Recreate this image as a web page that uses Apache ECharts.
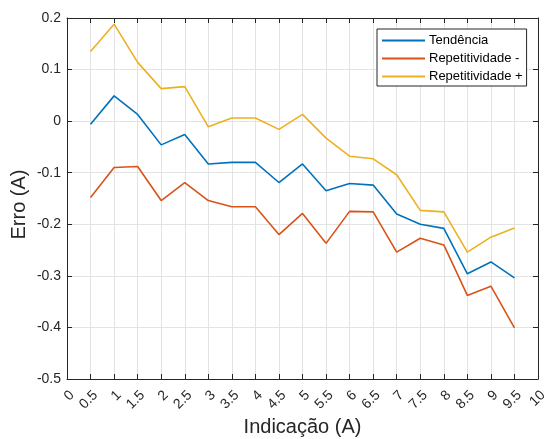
<!DOCTYPE html>
<html>
<head>
<meta charset="utf-8">
<script src="https://cdn.jsdelivr.net/npm/echarts@6/dist/echarts.min.js"></script>
<style>
  html, body { margin: 0; padding: 0; background: #fff; }
  #chart { width: 548px; height: 439px; }
</style>
</head>
<body>
<div id="chart"></div>
<script>
// Indicação (A) at which each error was measured
const indicacao = [0.5, 1, 1.5, 2, 2.5, 3, 3.5, 4, 4.5, 5, 5.5, 6, 6.5, 7, 7.5, 8, 8.5, 9, 9.5];

// Erro (A) per series
const tendencia = [-0.006, 0.049, 0.013, -0.046, -0.026, -0.083, -0.080, -0.080, -0.119, -0.083,
                   -0.135, -0.121, -0.124, -0.180, -0.200, -0.208, -0.296, -0.273, -0.304];
const repetitividadeMenos = [-0.148, -0.090, -0.088, -0.154, -0.119, -0.154, -0.166, -0.166, -0.220, -0.179,
                             -0.237, -0.175, -0.176, -0.254, -0.227, -0.240, -0.338, -0.320, -0.401];
const repetitividadeMais = [0.135, 0.188, 0.114, 0.063, 0.067, -0.011, 0.006, 0.006, -0.016, 0.013,
                            -0.033, -0.068, -0.073, -0.104, -0.173, -0.176, -0.254, -0.225, -0.207];

const seriesNames = ['Tendência', 'Repetitividade -', 'Repetitividade +'];
const seriesColors = ['#0072BD', '#D95319', '#EDB120'];

const FONT = "'Liberation Sans', Arial, Helvetica, sans-serif";
const INK = '#262626';

function pairs(ys) {
  return indicacao.map((x, i) => [x, ys[i]]);
}

const tickStyle = { show: true, inside: true, length: 5, lineStyle: { color: INK, width: 1 } };
const lineAxis = { show: true, onZero: false, lineStyle: { color: INK, width: 1 } };
const grid = { show: true, lineStyle: { color: '#e3e3e3', width: 1 } };

// plain line swatch for the legend entries
const lineIcon = 'path://M0,0 H43 V1.8 H0 Z';

const chart = echarts.init(document.getElementById('chart'), null, { renderer: 'canvas' });
chart.setOption({
  animation: false,
  backgroundColor: '#ffffff',
  textStyle: { fontFamily: FONT },
  grid: { left: 67, right: 10, top: 18, bottom: 60, containLabel: false, outerBoundsMode: 'none' },
  legend: {
    orient: 'vertical',
    left: 377,
    top: 29,
    padding: [5, 4, 3, 5],
    itemGap: 5,
    itemWidth: 43,
    itemHeight: 14,
    backgroundColor: '#ffffff',
    borderColor: INK,
    borderWidth: 1,
    borderRadius: 0,
    textStyle: { fontSize: 13, color: '#000', fontFamily: FONT, padding: [0, 0, 0, -1] },
    data: seriesNames.map(n => ({ name: n, icon: lineIcon }))
  },
  xAxis: [
    {
      type: 'value', min: 0, max: 10, interval: 0.5,
      name: 'Indicação (A)', nameLocation: 'middle', nameGap: 38, nameMoveOverlap: false,
      nameTextStyle: { fontSize: 20, color: INK, fontFamily: FONT },
      axisLine: lineAxis, axisTick: tickStyle, splitLine: grid,
      axisLabel: { rotate: 45, align: 'right', verticalAlign: 'top',
                   fontSize: 14, color: INK, margin: 9, fontFamily: FONT }
    },
    {
      type: 'value', min: 0, max: 10, interval: 0.5, position: 'top',
      axisLine: lineAxis, axisTick: tickStyle, splitLine: { show: false },
      axisLabel: { show: false }
    }
  ],
  yAxis: [
    {
      type: 'value', min: -0.5, max: 0.2, interval: 0.1,
      name: 'Erro (A)', nameLocation: 'middle', nameRotate: 90, nameGap: 38, nameMoveOverlap: false,
      nameTextStyle: { fontSize: 20, color: INK, fontFamily: FONT, padding: [0, 12, 0, 0] },
      axisLine: lineAxis, axisTick: tickStyle, splitLine: grid,
      axisLabel: { fontSize: 14, color: INK, margin: 6, fontFamily: FONT,
                   formatter: v => String(Math.round(v * 10) / 10) }
    },
    {
      type: 'value', min: -0.5, max: 0.2, interval: 0.1, position: 'right',
      axisLine: lineAxis, axisTick: tickStyle, splitLine: { show: false },
      axisLabel: { show: false }
    }
  ],
  series: [tendencia, repetitividadeMenos, repetitividadeMais].map((ys, i) => ({
    name: seriesNames[i],
    type: 'line',
    xAxisIndex: 0,
    yAxisIndex: 0,
    data: pairs(ys),
    symbol: 'none',
    color: seriesColors[i],
    lineStyle: { color: seriesColors[i], width: 1.6 }
  }))
});
</script>
</body>
</html>
